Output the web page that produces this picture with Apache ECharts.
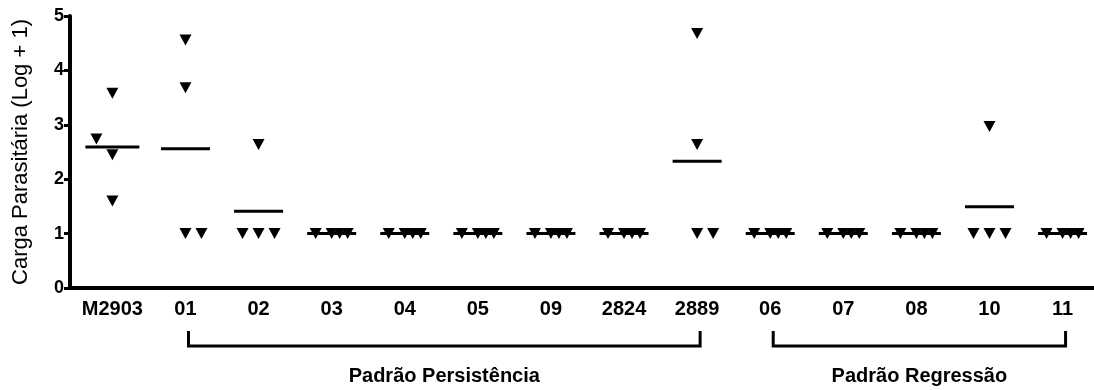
<!DOCTYPE html>
<html>
<head>
<meta charset="utf-8">
<script src="https://cdn.jsdelivr.net/npm/echarts@6/dist/echarts.min.js"></script>
<style>
html,body{margin:0;padding:0;background:#fff}
#c{width:1094px;height:390px}
</style>
</head>
<body>
<div id="c"></div>
<script>
// ---------------- DATA ----------------
const categories = ['M2903','01','02','03','04','05','09','2824','2889','06','07','08','10','11'];
const vM2903 = [3.58, 2.74, 2.45, 1.6];
const v01    = [4.56, 3.68, 1, 1];
const v02    = [2.64, 1, 1, 1];
const v03    = [1, 1, 1, 1];
const v04    = [1, 1, 1, 1];
const v05    = [1, 1, 1, 1];
const v09    = [1, 1, 1, 1];
const v2824  = [1, 1, 1, 1];
const v2889  = [4.68, 2.64, 1, 1];
const v06    = [1, 1, 1, 1];
const v07    = [1, 1, 1, 1];
const v08    = [1, 1, 1, 1];
const v10    = [2.97, 1, 1, 1];
const v11    = [1, 1, 1, 1];
const groupValues = [vM2903, v01, v02, v03, v04, v05, v09, v2824, v2889, v06, v07, v08, v10, v11];
const yTicks = [0, 1, 2, 3, 4, 5];
const patternNames = ['Padrão Persistência', 'Padrão Regressão'];
const patternRanges = [[1, 8], [9, 13]];   // category index ranges
const yTitle = 'Carga Parasitária (Log + 1)';

// ---------------- LAYOUT (scatter spreading of overlapping points, in slot units) ----------------
const SPREAD_STEP = 16; // px
const spreadSlots = [
  [0, -1, 0, 0],
  [0, 0, 0, 1],
  [0, -1, 0, 1],
  [-1, 0, 0.5, 1], [-1, 0, 0.5, 1], [-1, 0, 0.5, 1], [-1, 0, 0.5, 1], [-1, 0, 0.5, 1],
  [0, 0, 0, 1],
  [-1, 0, 0.5, 1], [-1, 0, 0.5, 1], [-1, 0, 0.5, 1],
  [0, -1, 0, 1],
  [-1, 0, 0.5, 1]
];

const FONT = '"Liberation Sans", Arial, Helvetica, sans-serif';

const pointData = [];
groupValues.forEach((vals, gi) => {
  vals.forEach((v, k) => {
    pointData.push({ value: [gi, v], symbolOffset: [spreadSlots[gi][k] * SPREAD_STEP, 0] });
  });
});
const meanData = groupValues.map((vals, gi) => ({
  value: [gi, vals.reduce((a, b) => a + b, 0) / vals.length],
  symbolSize: gi === 0 ? [54, 3] : [49, 3]
}));
const bracketData = patternRanges.map(r => [r[0], r[1]]);

const chart = echarts.init(document.getElementById('c'), null, { renderer: 'canvas' });
chart.setOption({
  animation: false,
  backgroundColor: '#ffffff',
  textStyle: { fontFamily: FONT },
  grid: { left: 70, right: 0, top: 16, bottom: 102, containLabel: false },
  xAxis: {
    type: 'value',
    min: -0.58,
    max: 13.43,
    splitLine: { show: false },
    axisLine: { show: true, onZero: false, lineStyle: { color: '#000', width: 4 } },
    axisTick: { show: false },
    axisLabel: {
      customValues: categories.map((_, i) => i),
      formatter: v => categories[Math.round(v)],
      color: '#000', fontWeight: 'bold', fontSize: 20, fontFamily: FONT, margin: 11
    }
  },
  yAxis: {
    type: 'value',
    min: 0, max: 5, interval: 1,
    splitLine: { show: false },
    axisLine: { show: true, onZero: false, lineStyle: { color: '#000', width: 4 } },
    axisTick: { show: true, inside: false, length: 6, lineStyle: { color: '#000', width: 3 } },
    axisLabel: {
      customValues: yTicks,
      color: '#000', fontWeight: 'bold', fontSize: 18, fontFamily: FONT, margin: 6
    },
    name: yTitle,
    nameLocation: 'middle',
    nameGap: 38,
    nameTextStyle: { color: '#000', fontSize: 22, fontWeight: 'normal', fontFamily: FONT }
  },
  series: [
    {
      type: 'scatter',
      name: 'points',
      data: pointData,
      symbol: 'triangle',
      symbolRotate: 180,
      symbolSize: [12, 11],
      itemStyle: { color: '#000', opacity: 1 },
      emphasis: { disabled: true },
      z: 3
    },
    {
      type: 'scatter',
      name: 'mean',
      data: meanData,
      symbol: 'rect',
      itemStyle: { color: '#000', opacity: 1 },
      emphasis: { disabled: true },
      z: 4
    },
    {
      type: 'custom',
      name: 'brackets',
      data: bracketData,
      clip: false,
      silent: true,
      renderItem: function (params, api) {
        const a = api.coord([api.value(0), 0]);
        const b = api.coord([api.value(1), 0]);
        const y0 = a[1];
        const x1 = a[0] + 3, x2 = b[0] + 3;
        const top = y0 + 43, bot = y0 + 58;
        return {
          type: 'group',
          children: [
            {
              type: 'polyline',
              shape: { points: [[x1, top], [x1, bot], [x2, bot], [x2, top]] },
              style: { stroke: '#000', lineWidth: 3, fill: null, lineJoin: 'miter', lineCap: 'butt' }
            },
            {
              type: 'text',
              style: {
                x: (x1 + x2) / 2, y: y0 + 88,
                text: patternNames[params.dataIndex],
                fill: '#000',
                font: 'bold 20px ' + FONT,
                align: 'center', verticalAlign: 'middle'
              }
            }
          ]
        };
      }
    }
  ]
});
</script>
</body>
</html>
